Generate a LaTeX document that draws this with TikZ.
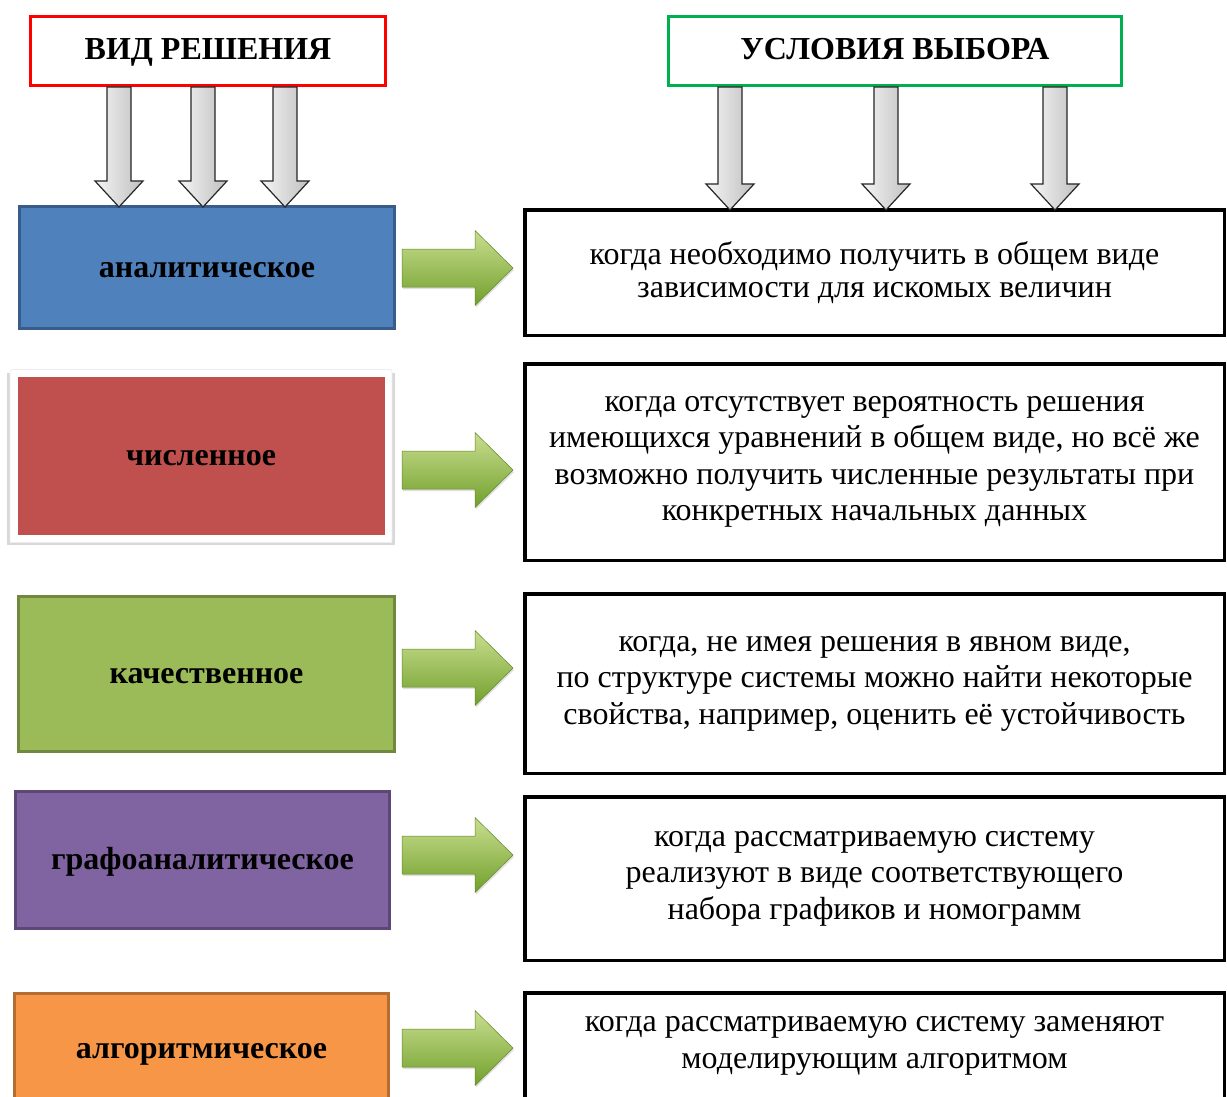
\documentclass[tikz,border=0pt]{standalone}
\usepackage{fontspec}
\setmainfont{Liberation Serif}
\usetikzlibrary{calc,shadows}

\definecolor{blau}{HTML}{4F81BD}
\definecolor{blaurand}{HTML}{385D8A}
\definecolor{rot}{HTML}{C0504D}
\definecolor{gruen}{HTML}{9BBB59}
\definecolor{gruenrand}{HTML}{71893F}
\definecolor{lila}{HTML}{8064A2}
\definecolor{lilarand}{HTML}{5C4776}
\definecolor{orange}{HTML}{F79646}
\definecolor{orangerand}{HTML}{B66D31}
\definecolor{kopfgruen}{HTML}{00B050}
\definecolor{pfeilhell}{HTML}{C9DE90}
\definecolor{pfeilmitte}{HTML}{9CC34D}
\definecolor{pfeildunkel}{HTML}{72A02C}

\tikzset{
    kopf/.style={draw=#1, line width=3pt, fill=white, minimum height=69pt,
        text height=18pt, text depth=0pt, font=\bfseries\fontsize{32}{36}\selectfont},
    art/.style={fill=#1, line width=3pt, minimum width=375pt, text height=19.5pt, text depth=0pt,
        font=\bfseries\fontsize{32}{36}\selectfont},
    bedingung/.style={draw=black, line width=3.5pt, fill=white, minimum width=699.5pt,
        align=center, execute at begin node={\rule{0pt}{30pt}}, font=\fontsize{32}{36.5}\selectfont},
    grauer/.style={draw=black!85, line width=1.2pt, left color=gray!8, right color=gray!50},
    gruener/.style={draw=pfeildunkel!85!black, line width=0.5pt, top color=pfeilhell,
        middle color=pfeilmitte, bottom color=pfeildunkel,
        drop shadow={opacity=0.25, shadow xshift=1pt, shadow yshift=-2pt}},
}

% grey arrow: x, upper node, lower node
\newcommand{\runter}[3]{%
    \coordinate (o) at (#1,0 |- #2.south);
    \coordinate (u) at (#1,0 |- #3.north);
    \draw[grauer] let \p1=(o), \p2=(u) in
        (\x1-12pt,\y1) -- (\x1+12pt,\y1) -- (\x1+12pt,\y2+24pt) -- (\x1+24pt,\y2+24pt)
        -- (\x1,\y2-2pt) -- (\x1-24pt,\y2+24pt) -- (\x1-12pt,\y2+24pt) -- cycle;}

% green arrow: start point
\newcommand{\rechts}[1]{%
    \coordinate (s) at #1;
    \draw[gruener] (s) ++(0,-19) -- ++(73,0) -- ++(0,-18.5) -- ++(38,37.5)
        -- ++(-38,37.5) -- ++(0,-18.5) -- ++(-73,0) -- cycle;}

\begin{document}
\begin{tikzpicture}[x=1pt, y=-1pt]
    \useasboundingbox[fill=white] (0,0) rectangle (1227,1097);

    % headings
    \node[kopf=red, minimum width=355pt] (vid) at (208,51) {ВИД РЕШЕНИЯ};
    \node[kopf=kopfgruen, minimum width=453pt] (usl) at (895,51) {УСЛОВИЯ ВЫБОРА};

    % left column
    \node[art=blau, draw=blaurand, minimum height=122pt] (anal) at (207,267.5) {аналитическое};
    \node[art=rot, draw=white, line width=7.5pt, minimum width=374.5pt, minimum height=165.5pt,
        drop shadow={opacity=0.3, shadow scale=1.035, shadow xshift=0pt, shadow yshift=-3pt}] (chisl) at (201,456) {численное};
    \draw[gray!15, line width=0.6pt, rounded corners=2pt] (chisl.south west) rectangle (chisl.north east);
    \node[art=gruen, draw=gruenrand, minimum width=376pt, minimum height=155pt] (kach) at (206.5,674) {качественное};
    \node[art=lila, draw=lilarand, minimum width=374pt, minimum height=137pt] (graf) at (202.5,860) {графоаналитическое};
    \node[art=orange, draw=orangerand, minimum width=374pt, minimum height=110pt] (algo) at (201.5,1048.5) {алгоритмическое};

    % right column
    \node[bedingung, execute at begin node={}, font=\fontsize{32}{33.5}\selectfont,
        minimum height=125.5pt] (b1) at (874.5,272.5)
        {когда необходимо получить в общем виде\\зависимости для искомых величин};
    \node[bedingung, minimum height=196.5pt] (b2) at (874.5,462)
        {когда отсутствует вероятность решения\\имеющихся уравнений в общем виде, но всё же\\возможно получить численные результаты при\\конкретных начальных данных};
    \node[bedingung, minimum height=179.5pt] (b3) at (874.5,683.5)
        {когда, не имея решения в явном виде,\\по структуре системы можно найти некоторые\\свойства, например, оценить её устойчивость};
    \node[bedingung, minimum height=163.5pt] (b4) at (874.5,878.5)
        {когда рассматриваемую систему\\реализуют в виде соответствующего\\набора графиков и номограмм};
    \node[bedingung, minimum height=106pt] (b5) at (874.5,1046)
        {когда рассматриваемую систему заменяют\\моделирующим алгоритмом};

    % grey arrows
    \foreach \x in {119,203,285} {\runter{\x}{vid}{anal}}
    \foreach \x in {730,886,1055} {\runter{\x}{usl}{b1}}

    % green arrows
    \foreach \y in {268,470,668,855,1048} {\rechts{(402,\y)}}
\end{tikzpicture}
\end{document}
